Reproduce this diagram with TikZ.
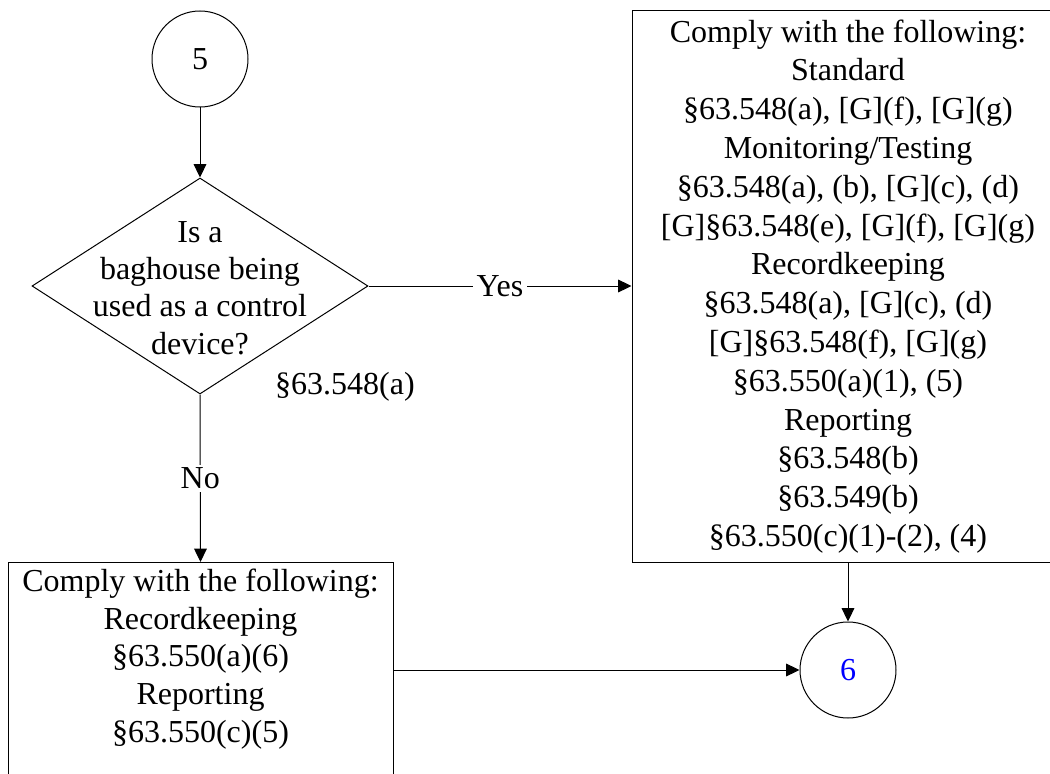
\documentclass[tikz,border=0pt]{standalone}
\usepackage{fontspec}
\setmainfont{Liberation Serif}
\usetikzlibrary{shapes.geometric,arrows.meta}

\tikzset{every picture/.style={line width=0.75pt}}
\tikzset{
  flowtext/.style={font=\fontsize{24}{28}\selectfont, align=center, inner sep=0.75pt},
  connector/.style={circle, draw, minimum size=72pt, inner sep=0pt, font=\fontsize{24}{28}\selectfont},
  decision/.style={diamond, draw, minimum width=252pt, minimum height=162pt, inner sep=0pt},
  panel/.style={rectangle, draw, inner sep=0pt},
  flowarrow/.style={-{Triangle[length=10pt,width=9.5pt]}},
  edgelabel/.style={fill=white, inner sep=3pt, font=\fontsize{24}{28}\selectfont}
}

\begin{document}
\begin{tikzpicture}[x=0.75pt,y=0.75pt,yscale=-1,xscale=1]
	\useasboundingbox (0,0) rectangle (1050,774);
	\clip (0,0) rectangle (1050,774);
	
	%Shape: Circle [id:c5]
	\node [connector] (c5) at (200,59) {5};
	%Shape: Diamond [id:q]
	\node [decision] (q) at (200,286) {};
	\node [flowtext] (qtext) at (200,288) {Is a\\baghouse being\\used as a control\\device?};
	\node [flowtext] (qref) at (345,387) {§63.548(a)};
	
	%Shape: Rectangle [id:rbox]
	\node [panel, minimum width=324pt, minimum height=413.25pt, align=center, font=\fontsize{24}{29.1}\selectfont] (rbox) at (848,286.5) {Comply with the following:\\Standard\\§63.548(a), [G](f), [G](g)\\Monitoring/Testing\\§63.548(a), (b), [G](c), (d)\\{}[G]§63.548(e), [G](f), [G](g)\\Recordkeeping\\§63.548(a), [G](c), (d)\\{}[G]§63.548(f), [G](g)\\§63.550(a)(1), (5)\\Reporting\\§63.548(b)\\§63.549(b)\\§63.550(c)(1)-(2), (4)};
	
	%Shape: Rectangle [id:lbox]
	\node [panel, anchor=north, minimum width=288.75pt, minimum height=180pt] (lbox) at (200.5,562) {};
	\node [flowtext, font=\fontsize{24}{28.2}\selectfont] (ltext) at (200.5,659) {Comply with the following:\\Recordkeeping\\§63.550(a)(6)\\Reporting\\§63.550(c)(5)};
	
	%Shape: Circle [id:c6]
	\node [connector, text=blue] (c6) at (848,670) {6};
	
	%Straight Lines
	\draw [flowarrow] (c5) -- (q);
	\draw [flowarrow] (q.east) -- (q.east -| rbox.west) node [edgelabel, midway] {Yes};
	\draw [flowarrow] (q.south) -- (lbox.north) node [edgelabel, midway, inner sep=2pt] {No};
	\draw [flowarrow] (rbox.south) -- (c6);
	\draw [flowarrow] (c6 -| lbox.east) -- (c6);
	
\end{tikzpicture}
\end{document}
